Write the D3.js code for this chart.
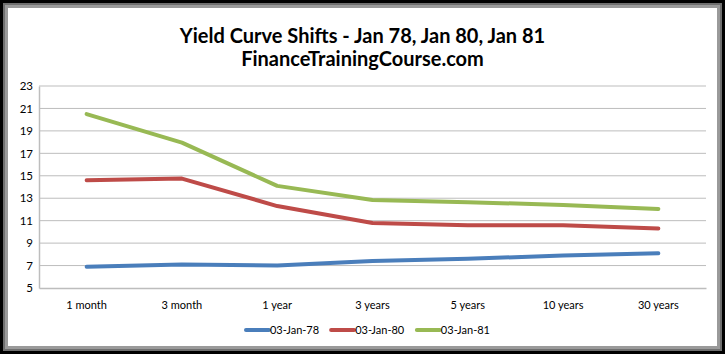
<!DOCTYPE html>
<html>
<head>
<meta charset="utf-8">
<script src="https://cdn.jsdelivr.net/npm/d3@7"></script>
<style>
  body { margin: 0; background: #fff; }
  text { font-family: Lato, "Open Sans", sans-serif; fill: #000; }
</style>
</head>
<body>
<svg id="grafico"></svg>
<script>
const WIDTH = 725,
    HEIGHT = 354;

const margin = { top: 86, bottom: 66, left: 39, right: 19 };

const vencimientos = ["1 month", "3 month", "1 year", "3 years", "5 years", "10 years", "30 years"];
const series = ["03-Jan-78", "03-Jan-80", "03-Jan-81"];
const colores = ["#4a7ebb", "#be4b48", "#98b954"];
const ene78 = [6.9, 7.1, 7.0, 7.4, 7.6, 7.9, 8.1];
const ene80 = [14.6, 14.75, 12.3, 10.8, 10.6, 10.6, 10.3];
const ene81 = [20.5, 17.95, 14.1, 12.85, 12.65, 12.4, 12.05];
const ticksY = [5, 7, 9, 11, 13, 15, 17, 19, 21, 23];

const datos = [ene78, ene80, ene81];

const svg = d3.select("#grafico")
    .attr("width", WIDTH)
    .attr("height", HEIGHT);

// marco
svg.append("rect").attr("width", WIDTH).attr("height", HEIGHT).attr("fill", "#000");
svg.append("rect").attr("x", 3).attr("y", 3).attr("width", WIDTH - 6).attr("height", HEIGHT - 6).attr("fill", "#6f6f6f");
svg.append("rect").attr("x", 5).attr("y", 5).attr("width", WIDTH - 10).attr("height", HEIGHT - 10).attr("fill", "#9a9a9a");
svg.append("rect").attr("x", 8).attr("y", 8).attr("width", WIDTH - 16).attr("height", HEIGHT - 16).attr("fill", "#fff");

svg.append("text")
    .attr("x", WIDTH / 2).attr("y", 43)
    .attr("text-anchor", "middle")
    .attr("font-size", 20).attr("font-weight", "bold")
    .text("Yield Curve Shifts - Jan 78, Jan 80, Jan 81");

svg.append("text")
    .attr("x", WIDTH / 2).attr("y", 66)
    .attr("text-anchor", "middle")
    .attr("font-size", 20).attr("font-weight", "bold")
    .text("FinanceTrainingCourse.com");

const x = d3.scaleBand()
    .domain(vencimientos)
    .range([margin.left, WIDTH - margin.right]);

const y = d3.scaleLinear()
    .domain([5, 23])
    .range([HEIGHT - margin.bottom, margin.top]);

// rejilla
svg.append("g")
    .selectAll("line")
    .data(ticksY.slice(1))
    .join("line")
    .attr("x1", margin.left).attr("x2", WIDTH - margin.right)
    .attr("y1", d => y(d)).attr("y2", d => y(d))
    .attr("stroke", "#bdbdbd").attr("stroke-width", 1);

const ejeY = svg.append("g")
    .attr("transform", `translate(${margin.left},0)`)
    .call(d3.axisLeft(y).tickValues(ticksY).tickSize(0).tickPadding(6));
ejeY.select(".domain").attr("stroke", "#bdbdbd").attr("stroke-width", 1.5);
ejeY.selectAll("text").attr("font-size", 11.5).style("font-family", "Lato, sans-serif").attr("fill", "#222");

const ejeX = svg.append("g")
    .attr("transform", `translate(0,${HEIGHT - margin.bottom})`)
    .call(d3.axisBottom(x).tickSize(0).tickPadding(13));
ejeX.select(".domain").attr("stroke", "#bdbdbd").attr("stroke-width", 1.5);
ejeX.selectAll("text").attr("font-size", 11).style("font-family", "Lato, sans-serif").attr("fill", "#222");

const linea = d3.line()
    .x((d, i) => x(vencimientos[i]) + x.bandwidth() / 2)
    .y(d => y(d));

svg.append("g")
    .selectAll("path")
    .data(datos)
    .join("path")
    .attr("d", linea)
    .attr("fill", "none")
    .attr("stroke", (d, i) => colores[i])
    .attr("stroke-width", 4)
    .attr("stroke-linejoin", "round")
    .attr("stroke-linecap", "round");

// leyenda
const leyenda = svg.append("g")
    .selectAll("g")
    .data(series)
    .join("g");

leyenda.append("line")
    .attr("x1", 1).attr("x2", 24)
    .attr("stroke", (d, i) => colores[i])
    .attr("stroke-width", 4)
    .attr("stroke-linecap", "round");

leyenda.append("text")
    .attr("x", 25).attr("y", 4)
    .attr("font-size", 11).attr("fill", "#222")
    .text(d => d);

// centrar la leyenda alrededor de x=367
const anchos = leyenda.nodes().map(n => n.getBBox().width);
const hueco = 12;
const total = d3.sum(anchos) + hueco * (anchos.length - 1);
let cursor = 367 - total / 2;
leyenda.attr("transform", (d, i) => {
    const t = `translate(${cursor},330)`;
    cursor += anchos[i] + hueco;
    return t;
});
</script>
</body>
</html>
